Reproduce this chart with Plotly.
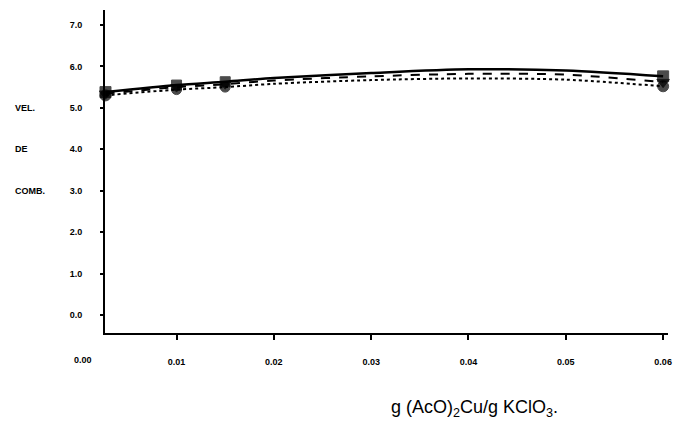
import plotly.graph_objects as go

# data
x_vals = [0.0027, 0.01, 0.015, 0.02, 0.03, 0.04, 0.05, 0.06]
serie_a = [5.38, 5.55, 5.63, 5.72, 5.84, 5.93, 5.90, 5.76]   # solid
serie_b = [5.34, 5.50, 5.57, 5.66, 5.76, 5.82, 5.80, 5.62]   # dashed
serie_c = [5.30, 5.44, 5.50, 5.58, 5.67, 5.71, 5.68, 5.52]   # dotted
marker_sizes = [11, 10, 10, 0, 0, 0, 0, 11]

x_ticks = [0.01, 0.02, 0.03, 0.04, 0.05, 0.06]
x_tick_text = ["0.01", "0.02", "0.03", "0.04", "0.05", "0.06"]
y_ticks = [0, 1, 2, 3, 4, 5, 6, 7]
y_tick_text = ["0.0", "1.0", "2.0", "3.0", "4.0", "5.0", "6.0", "7.0"]
y_words = ["VEL.", "DE", "COMB."]
y_word_pos = [5, 4, 3]
x_title = "g (AcO)<sub>2</sub>Cu/g KClO<sub>3</sub>."

FONT = "Liberation Sans, Arial"
tick_font = dict(family=FONT, size=9, color="black", weight="bold")

fig = go.Figure()
styles = [("solid", "square", serie_a, 2.5), ("dash", "triangle-down", serie_b, 2),
          ("dot", "circle", serie_c, 2)]
for dash, sym, ys, lw in styles:
    fig.add_trace(go.Scatter(
        x=x_vals, y=ys, mode="lines+markers",
        line=dict(color="black", width=lw, dash=dash, shape="spline", smoothing=0.8),
        marker=dict(color="black", size=marker_sizes, symbol=sym,
                    line=dict(color="black", width=1)),
        showlegend=False, cliponaxis=False, hoverinfo="skip",
    ))

annotations = []
for w, p in zip(y_words, y_word_pos):
    annotations.append(dict(text=w, xref="paper", yref="y", x=0, y=p, xanchor="left",
                            xshift=-92, showarrow=False, font=tick_font))
annotations.append(dict(text="0.00", xref="paper", yref="paper", x=0, y=0, xanchor="center",
                        yanchor="middle", xshift=-22, yshift=-27, showarrow=False,
                        font=tick_font))
annotations.append(dict(text=x_title, xref="paper", yref="paper", x=0.656, y=0,
                        yanchor="middle", yshift=-75, showarrow=False,
                        font=dict(family=FONT, size=18, color="black")))

fig.update_layout(
    width=675, height=428,
    margin=dict(l=105, r=3, t=10, b=95),
    paper_bgcolor="white", plot_bgcolor="white",
    xaxis=dict(range=[0.00265, 0.0605], tickvals=x_ticks, ticktext=x_tick_text,
               showgrid=False, zeroline=False, showline=True, linecolor="black", linewidth=2,
               ticks="outside", ticklen=5, tickwidth=1.5, tickcolor="black",
               ticklabelstandoff=14, ticklabeloverflow="allow", tickfont=tick_font),
    yaxis=dict(range=[-0.43, 7.36], tickvals=y_ticks, ticktext=y_tick_text,
               showgrid=False, zeroline=False, showline=True, linecolor="black", linewidth=2,
               ticks="outside", ticklen=3, tickwidth=1.5, tickcolor="black",
               ticklabelstandoff=16, tickfont=tick_font),
    annotations=annotations,
)

fig.write_html("out.html", config={"displayModeBar": False},
               post_script="document.body.style.margin='0';")
